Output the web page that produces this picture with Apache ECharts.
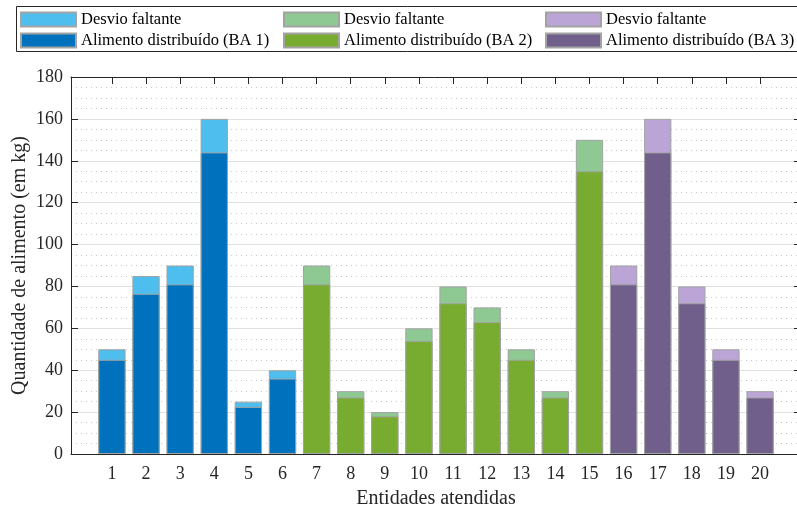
<!DOCTYPE html>
<html><head><meta charset="utf-8">
<script src="https://cdn.jsdelivr.net/npm/echarts@6/dist/echarts.min.js"></script>
<style>html,body{margin:0;padding:0;background:#fff}#c{width:797px;height:509px}</style>
</head><body><div id="c"></div>
<script>
// ---- data ----
const entities = [1,2,3,4,5,6,7,8,9,10,11,12,13,14,15,16,17,18,19,20];
const ba1Entities = [1,2,3,4,5,6];
const ba1Distributed = [45,76.5,81,144,22.5,36];
const ba1Total = [50,85,90,160,25,40];
const ba2Entities = [7,8,9,10,11,12,13,14,15];
const ba2Distributed = [81,27,18,54,72,63,45,27,135];
const ba2Total = [90,30,20,60,80,70,50,30,150];
const ba3Entities = [16,17,18,19,20];
const ba3Distributed = [81,144,72,45,27];
const ba3Total = [90,160,80,50,30];
const legendMissing = 'Desvio faltante';
const legendDist = ['Alimento distribuído (BA 1)','Alimento distribuído (BA 2)','Alimento distribuído (BA 3)'];
const xTitle = 'Entidades atendidas';
const yTitle = 'Quantidade de alimento (em kg)';

const FONT = '"Liberation Serif", serif';
const TXT = '#262626';
const EDGE = '#a3a3a3';

function pairs(ents, vals){ return ents.map((e, i) => [e, vals[i]]); }
function barSeries(name, ents, vals, color){
  return { name, type:'bar', barWidth:27.3, barGap:'-100%', data: pairs(ents, vals),
    itemStyle:{ color, borderColor:EDGE, borderWidth:1 }, emphasis:{disabled:true}, animation:false };
}
const groups = [
  {ents:ba1Entities, dist:ba1Distributed, tot:ba1Total, dark:'#0072BD', light:'#4DBEEE'},
  {ents:ba2Entities, dist:ba2Distributed, tot:ba2Total, dark:'#77AC30', light:'#8EC994'},
  {ents:ba3Entities, dist:ba3Distributed, tot:ba3Total, dark:'#6F5F8A', light:'#BBA5D6'}
];
const series = [];
groups.forEach((g, k) => {
  series.push(barSeries(legendMissing + ' (BA ' + (k+1) + ')', g.ents, g.tot, g.light));
  series.push(barSeries(legendDist[k], g.ents, g.dist, g.dark));
});
const legendLefts = [20, 283, 545];
const legends = groups.map((g, k) => ({
  data: [legendMissing + ' (BA ' + (k+1) + ')', legendDist[k]],
  left: legendLefts[k], top: 11, orient:'vertical', padding:0,
  itemWidth:55, itemHeight:14, itemGap:4, icon:'rect', selectedMode:false,
  formatter: n => n.startsWith(legendMissing) ? legendMissing : n,
  textStyle:{ fontFamily:FONT, fontSize:16.5, color:'#000' }
}));
const tickRich = { t:{ fontFamily:FONT, fontSize:18, color:TXT } };
const nameRich = { n:{ fontFamily:FONT, fontSize:20, color:TXT } };

const chart = echarts.init(document.getElementById('c'), null, {renderer:'canvas'});
chart.setOption({
  animation:false,
  backgroundColor:'#fff',
  textStyle:{ fontFamily:FONT },
  legend: legends,
  graphic: [{ type:'rect', left:14, top:4, shape:{x:0.5,y:0.5,width:820,height:45},
    style:{ fill:'none', stroke:'#262626', lineWidth:1 }, silent:true }],
  grid: { left:71, top:77, width:730, height:377, containLabel:false, outerBoundsMode:'none' },
  xAxis: [
    { type:'value', min:-0.2, max:21.2, position:'bottom',
      name:'{n|' + xTitle + '}', nameLocation:'middle', nameGap:35, nameMoveOverlap:false,
      nameTextStyle:{ fontFamily:FONT, fontSize:20, color:TXT, rich:nameRich },
      axisLine:{ show:true, onZero:false, lineStyle:{ color:TXT, width:1 } },
      axisTick:{ show:true, inside:true, length:7, customValues:entities, lineStyle:{color:TXT} },
      axisLabel:{ customValues:entities, fontFamily:FONT, fontSize:18, color:TXT, margin:11,
        formatter: v => '{t|' + v + '}', rich:tickRich },
      splitLine:{ show:false } },
    { type:'value', min:-0.2, max:21.2, position:'top',
      axisLine:{ show:true, onZero:false, lineStyle:{ color:TXT, width:1 } },
      axisTick:{ show:true, inside:true, length:7, customValues:entities, lineStyle:{color:TXT} },
      axisLabel:{ show:false }, splitLine:{ show:false } }
  ],
  yAxis: [
    { type:'value', min:0, max:180, interval:20, position:'left',
      name:'{n|' + yTitle + '}', nameLocation:'middle', nameGap:41, nameMoveOverlap:false,
      nameTextStyle:{ fontFamily:FONT, fontSize:20, color:TXT, rich:nameRich },
      axisLine:{ show:true, onZero:false, lineStyle:{ color:TXT, width:1 } },
      axisTick:{ show:true, inside:true, length:7, lineStyle:{color:TXT} },
      axisLabel:{ fontFamily:FONT, fontSize:18, color:TXT, margin:8,
        formatter: v => '{t|' + v + '}', rich:tickRich },
      splitLine:{ show:true, lineStyle:{ color:'#e0e0e0', width:1 } },
      minorTick:{ show:false, splitNumber:4 },
      minorSplitLine:{ show:true, lineStyle:{ color:'#c8c8c8', width:1, type:[1,4] } } },
    { type:'value', min:0, max:180, interval:20, position:'right',
      axisLine:{ show:true, onZero:false, lineStyle:{ color:TXT, width:1 } },
      axisTick:{ show:true, inside:true, length:7, lineStyle:{color:TXT} },
      axisLabel:{ show:false }, splitLine:{ show:false } }
  ],
  series: series
});
</script></body></html>
